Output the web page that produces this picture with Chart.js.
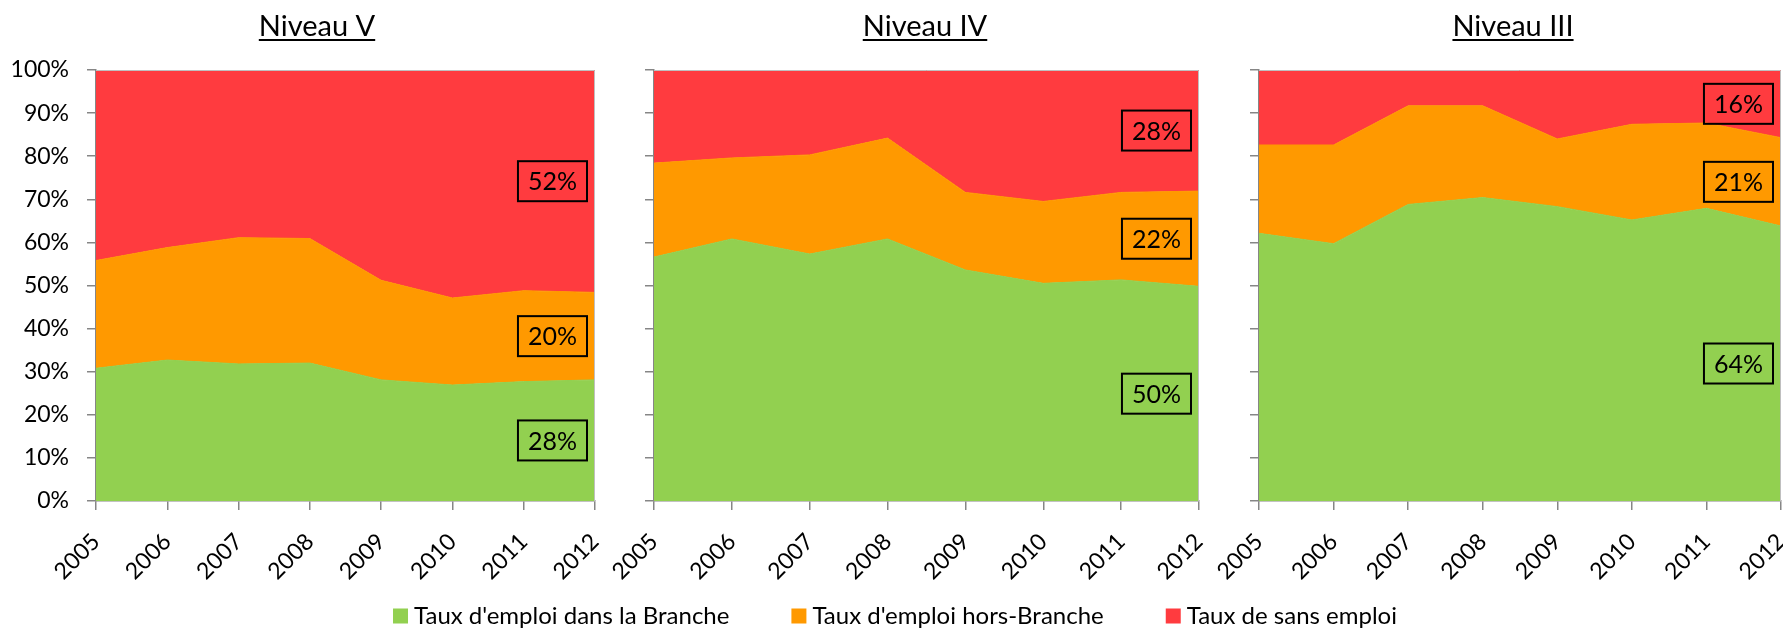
<!DOCTYPE html>
<html>
<head>
<meta charset="utf-8">
<script src="https://cdn.jsdelivr.net/npm/chart.js@4.4.1/dist/chart.umd.min.js"></script>
<style>
  html, body { margin: 0; padding: 0; background: #fff; }
  #wrap { position: relative; width: 1783px; height: 629px; }
  #wrap canvas { position: absolute; left: 0; top: 0; }
</style>
</head>
<body>
<div id="wrap">
  <canvas id="c1" width="1783" height="629"></canvas>
  <canvas id="c2" width="1783" height="629"></canvas>
  <canvas id="c3" width="1783" height="629"></canvas>
</div>
<script>
const years = ["2005", "2006", "2007", "2008", "2009", "2010", "2011", "2012"];
const yTickLabels = ["0%", "10%", "20%", "30%", "40%", "50%", "60%", "70%", "80%", "90%", "100%"];
const seriesNames = ["Taux d'emploi dans la Branche", "Taux d'emploi hors-Branche", "Taux de sans emploi"];
const seriesColors = ["#92D050", "#FF9900", "#FF3B3F"];
const panelTitles = ["Niveau V", "Niveau IV", "Niveau III"];

// Niveau V
const v_branche = [30.8, 32.7, 31.8, 32.0, 28.1, 26.9, 27.7, 28.1];
const v_horsBranche = [25.0, 26.1, 29.3, 28.9, 23.1, 20.2, 21.1, 20.3];
const v_sansEmploi = [44.2, 41.2, 38.9, 39.1, 48.8, 52.9, 51.2, 51.6];
// Niveau IV
const iv_branche = [56.6, 60.8, 57.3, 60.8, 53.6, 50.5, 51.3, 49.8];
const iv_horsBranche = [21.8, 18.8, 23.0, 23.4, 18.0, 19.0, 20.3, 22.1];
const iv_sansEmploi = [21.6, 20.4, 19.7, 15.8, 28.4, 30.5, 28.4, 28.1];
// Niveau III
const iii_branche = [62.1, 59.7, 68.8, 70.4, 68.3, 65.2, 67.9, 63.8];
const iii_horsBranche = [20.5, 22.9, 22.9, 21.3, 15.7, 22.2, 19.8, 20.5];
const iii_sansEmploi = [17.4, 17.4, 8.3, 8.3, 16.0, 12.6, 12.3, 15.7];

const FONT = "Lato, 'Open Sans', sans-serif";
const AXIS = "#868686";

// boxed % labels on the last year, centred on each band
const boxLabels = {
  id: "boxLabels",
  afterDatasetsDraw(chart) {
    const { ctx, chartArea } = chart;
    const n = years.length - 1;
    let prevY = chartArea.bottom;
    ctx.save();
    ctx.font = "25px " + FONT;
    ctx.textAlign = "center";
    ctx.textBaseline = "middle";
    chart.data.datasets.forEach((ds, i) => {
      const pt = chart.getDatasetMeta(i).data[n];
      const txt = Math.round(ds.data[n]) + "%";
      const w = ctx.measureText(txt).width + 20;
      const h = 40;
      let cy = (pt.y + prevY) / 2;
      cy = Math.max(chartArea.top + h / 2 + 2, Math.min(chartArea.bottom - h / 2 - 2, cy));
      const x1 = pt.x - 8 - w;
      ctx.lineWidth = 2;
      ctx.strokeStyle = "#000";
      ctx.strokeRect(x1, cy - h / 2, w, h);
      ctx.fillStyle = "#000";
      ctx.fillText(txt, x1 + w / 2, cy + 1);
      prevY = pt.y;
    });
    ctx.restore();
  }
};

const plotFrame = {
  id: "plotFrame",
  afterDatasetsDraw(chart) {
    const { ctx, chartArea } = chart;
    ctx.save();
    ctx.strokeStyle = "#bfbfbf";
    ctx.lineWidth = 1;
    ctx.beginPath();
    ctx.moveTo(chartArea.left, chartArea.top + 0.5);
    ctx.lineTo(chartArea.right - 0.5, chartArea.top + 0.5);
    ctx.lineTo(chartArea.right - 0.5, chartArea.bottom);
    ctx.stroke();
    ctx.restore();
  }
};

const panelTitle = {
  id: "panelTitle",
  afterDraw(chart, args, opts) {
    const ctx = chart.ctx;
    ctx.save();
    ctx.font = "29px " + FONT;
    ctx.fillStyle = "#000";
    ctx.textAlign = "center";
    ctx.textBaseline = "alphabetic";
    ctx.fillText(opts.text, opts.x, 36);
    const w = ctx.measureText(opts.text).width;
    ctx.fillRect(opts.x - w / 2, 39, w, 2);
    ctx.restore();
  }
};

const sharedLegend = {
  id: "sharedLegend",
  afterDraw(chart, args, opts) {
    if (!opts.show) return;
    const ctx = chart.ctx;
    ctx.save();
    ctx.font = "24px " + FONT;
    ctx.textBaseline = "middle";
    const sq = 15, gap = 6, sep = 62;
    const widths = seriesNames.map((s) => ctx.measureText(s).width);
    const total = widths.reduce((a, b) => a + b, 0) + seriesNames.length * (sq + gap) + sep * (seriesNames.length - 1);
    let x = opts.cx - total / 2;
    const y = opts.y;
    seriesNames.forEach((s, i) => {
      ctx.fillStyle = seriesColors[i];
      ctx.fillRect(x, y - sq / 2, sq, sq);
      x += sq + gap;
      ctx.fillStyle = "#000";
      ctx.fillText(s, x, y);
      x += widths[i] + sep;
    });
    ctx.restore();
  }
};

function makeDatasets(values) {
  return values.map((data, i) => ({
    label: seriesNames[i],
    data: data,
    backgroundColor: seriesColors[i],
    borderColor: seriesColors[i],
    borderWidth: 1,
    fill: i === 0 ? "origin" : "-1",
    pointRadius: 0,
    pointHoverRadius: 0,
    tension: 0
  }));
}

function makePanel(id, values, title, box) {
  const ctx = document.getElementById(id).getContext("2d");
  return new Chart(ctx, {
    type: "line",
    data: { labels: years, datasets: makeDatasets(values) },
    plugins: [boxLabels, plotFrame, panelTitle, sharedLegend],
    options: {
      responsive: false,
      animation: false,
      devicePixelRatio: 1,
      layout: { padding: { left: box.padL, right: box.padR, top: 70, bottom: 0 } },
      plugins: {
        legend: { display: false },
        tooltip: { enabled: false },
        panelTitle: { text: title, x: box.titleX },
        sharedLegend: { show: !!box.legend, cx: 895, y: 616 }
      },
      scales: {
        x: {
          offset: false,
          z: 1,
          grid: { drawOnChartArea: false, drawTicks: true, tickLength: 9, color: AXIS, lineWidth: 1.5 },
          border: { color: AXIS, width: 1.5 },
          ticks: {
            autoSkip: false,
            minRotation: 45,
            maxRotation: 45,
            padding: 18,
            color: "#000",
            font: { family: FONT, size: 23 }
          },
          afterFit(s) {
            s.height = 128;
            s.paddingLeft = 0;
            s.paddingRight = 0;
          }
        },
        y: {
          stacked: true,
          min: 0,
          max: 100,
          z: 1,
          grid: { drawOnChartArea: false, drawTicks: true, tickLength: 9, color: AXIS, lineWidth: 1.5 },
          border: { color: AXIS, width: 1.5 },
          ticks: {
            stepSize: 10,
            padding: 18,
            color: "#000",
            font: { family: FONT, size: 23 },
            callback: (v, i) => (box.yLabels ? yTickLabels[i] : "")
          },
          afterFit(s) {
            s.width = box.yW;
            s.paddingTop = 0;
            s.paddingBottom = 0;
          }
        }
      }
    }
  });
}

makePanel("c1", [v_branche, v_horsBranche, v_sansEmploi], panelTitles[0],
  { padL: 0, yW: 96, padR: 1188, titleX: 317, yLabels: true });
makePanel("c2", [iv_branche, iv_horsBranche, iv_sansEmploi], panelTitles[1],
  { padL: 644, yW: 10, padR: 584, titleX: 925, yLabels: false, legend: true });
makePanel("c3", [iii_branche, iii_horsBranche, iii_sansEmploi], panelTitles[2],
  { padL: 1249, yW: 10, padR: 2, titleX: 1513, yLabels: false });
</script>
</body>
</html>
